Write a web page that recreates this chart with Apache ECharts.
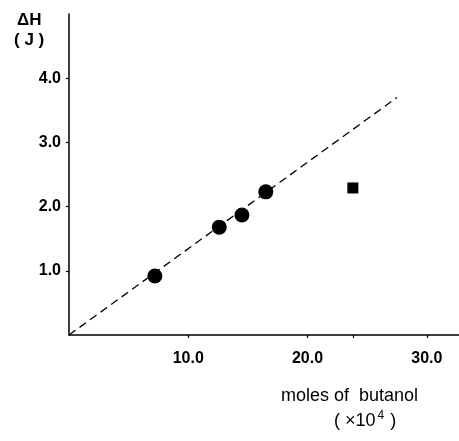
<!DOCTYPE html>
<html>
<head>
<meta charset="utf-8">
<script src="https://cdn.jsdelivr.net/npm/echarts@6/dist/echarts.min.js"></script>
<style>html,body{margin:0;padding:0;background:#fff}#c{width:459px;height:441px}</style>
</head>
<body>
<div id="c"></div>
<script>
// Data
var circleX = [7.2, 12.6, 14.5, 16.5];
var circleY = [0.92, 1.68, 1.87, 2.23];
var squareX = [23.8];
var squareY = [2.29];
var fitX = [0, 27.5];
var fitY = [0, 3.70];
var xTicks = [10, 20, 30];
var xExtraTicks = [23.8];
var yTicks = [1, 2, 3, 4];

function zip(a, b) { return a.map(function (v, i) { return [v, b[i]]; }); }

var chart = echarts.init(document.getElementById('c'), null, { renderer: 'canvas' });
var font = '"Liberation Sans", Arial, sans-serif';
chart.setOption({
  animation: false,
  backgroundColor: '#fff',
  grid: { left: 69, top: 14, width: 390, height: 321, containLabel: false },
  xAxis: {
    type: 'value', min: 0, max: 32.7,
    axisLine: { show: true, lineStyle: { color: '#000', width: 1.5 } },
    axisTick: { show: true, length: 3, customValues: xTicks.concat(xExtraTicks), lineStyle: { color: '#000', width: 1.2 } },
    axisLabel: { customValues: xTicks, margin: 16, color: '#000', fontSize: 16, fontFamily: font, fontWeight: 'bold',
      formatter: function (v) { return v.toFixed(1); } },
    splitLine: { show: false }
  },
  yAxis: {
    type: 'value', min: 0, max: 5,
    axisLine: { show: true, onZero: false, lineStyle: { color: '#000', width: 1.5 } },
    axisTick: { show: true, length: 3, customValues: yTicks, lineStyle: { color: '#000', width: 1.2 } },
    axisLabel: { customValues: yTicks, margin: 8, color: '#000', fontSize: 16, fontFamily: font, fontWeight: 'bold',
      formatter: function (v) { return v.toFixed(1); } },
    splitLine: { show: false }
  },
  series: [
    { type: 'line', data: zip(fitX, fitY), symbol: 'none',
      lineStyle: { color: '#000', width: 1.3, type: [8, 5] }, z: 1 },
    { type: 'scatter', data: zip(circleX, circleY), symbol: 'circle', symbolSize: 15,
      itemStyle: { color: '#000', opacity: 1 }, z: 3 },
    { type: 'scatter', data: zip(squareX, squareY), symbol: 'rect', symbolSize: 11,
      itemStyle: { color: '#000', opacity: 1 }, z: 3 }
  ],
  graphic: [
    { type: 'text', left: 17, top: 12, style: { text: 'ΔH', font: 'bold 17px ' + font, fill: '#000', letterSpacing: 2 } },
    { type: 'text', left: 14, top: 32, style: { text: '( J )', font: 'bold 17px ' + font, fill: '#000', letterSpacing: 2 } },
    { type: 'text', left: 281, top: 387, style: { text: 'moles of  butanol', font: '18px ' + font, fill: '#000', letterSpacing: 1.1 } },
    { type: 'text', left: 334, top: 410, style: {
      text: '( ×10{s|4} )', font: '18px ' + font, fill: '#000',
      rich: { s: { fontSize: 12, fontFamily: font, verticalAlign: 'top', padding: [0, 1, 10, 2] } } } }
  ]
});
</script>
</body>
</html>
